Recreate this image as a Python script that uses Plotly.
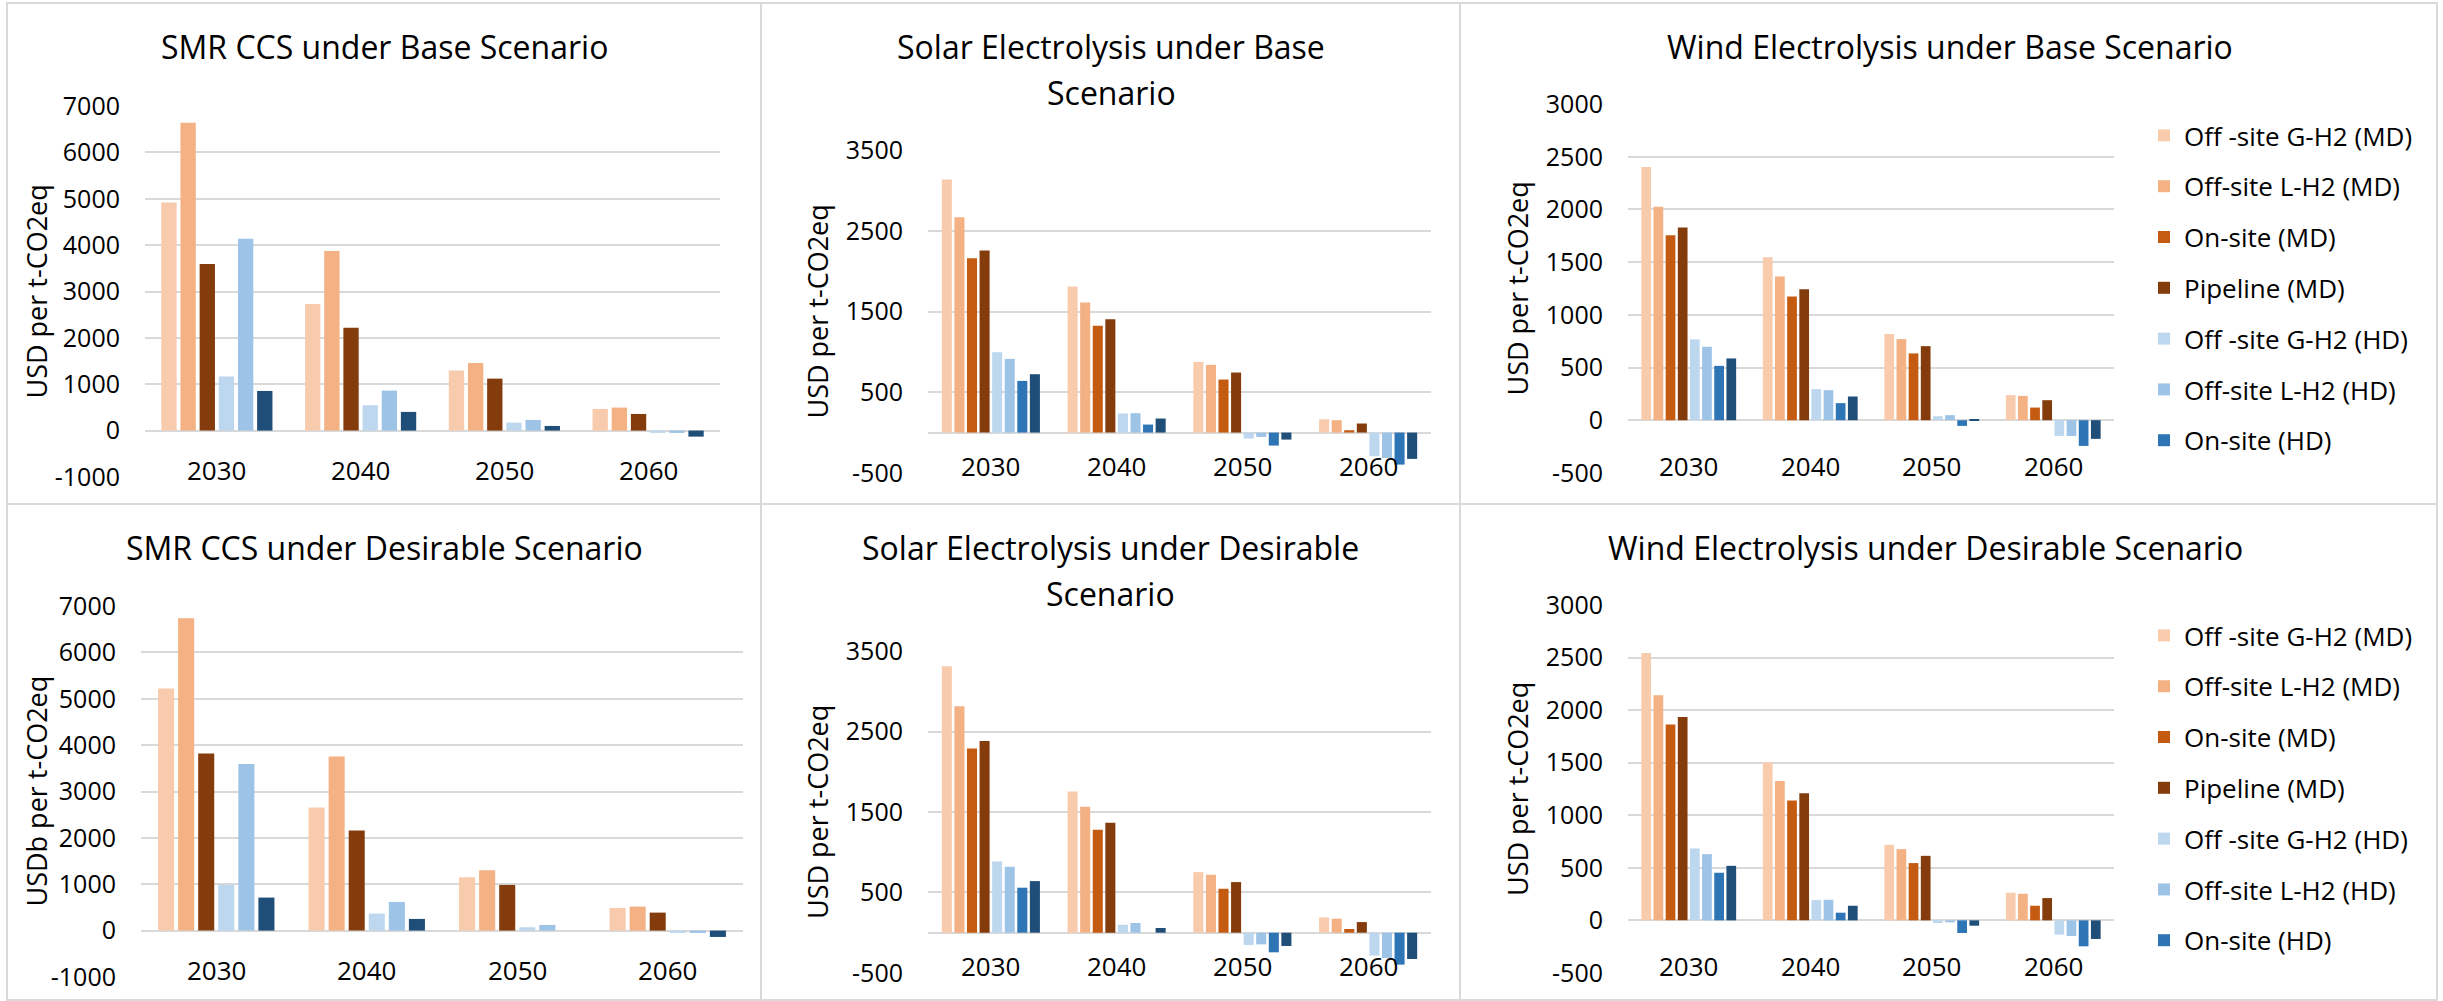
import plotly.graph_objects as go

W, H = 2443, 1001
FONT = "Open Sans, Segoe UI, DejaVu Sans, sans-serif"
GRID = "#D9D9D9"

# ---- data -------------------------------------------------------------
categories = ["2030", "2040", "2050", "2060"]

series_names = [
    "Off -site G-H2 (MD)",
    "Off-site L-H2 (MD)",
    "On-site (MD)",
    "Pipeline (MD)",
    "Off -site G-H2 (HD)",
    "Off-site L-H2 (HD)",
    "On-site (HD)",
    "Pipeline (HD)",
]
series_colors = ["#F8CBAD", "#F4B183", "#C55A11", "#843C0C",
                 "#BDD7EE", "#9DC3E6", "#2E75B6", "#1F4E79"]

# SMR CCS has no on-site option: only these series are plotted
smr_series = [0, 1, 3, 4, 5, 7]

# value-axis ticks
smr_ticks = [-1000, 0, 1000, 2000, 3000, 4000, 5000, 6000, 7000]
solar_ticks = [-500, 500, 1500, 2500, 3500]
wind_ticks = [-500, 0, 500, 1000, 1500, 2000, 2500, 3000]

smr_base = [
    [4920, 2730, 1294, 467],
    [6640, 3875, 1459, 496],
    [3595, 2220, 1121, 359],
    [1165, 546, 173, -50],
    [4140, 863, 230, -50],
    [855, 403, 100, -130],
]
smr_desirable = [
    [5220, 2653, 1150, 489],
    [6735, 3753, 1301, 518],
    [3817, 2157, 985, 388],
    [992, 367, 72, -50],
    [3595, 618, 122, -50],
    [712, 252, 0, -137],
]
solar_base = [
    [3136, 1810, 876, 165],
    [2669, 1612, 839, 153],
    [2161, 1322, 657, 29],
    [2256, 1405, 744, 112],
    [996, 236, -74, -293],
    [913, 240, -54, -314],
    [640, 99, -161, -397],
    [723, 174, -87, -326],
]
solar_desirable = [
    [3310, 1754, 753, 190],
    [2813, 1564, 720, 174],
    [2288, 1278, 546, 46],
    [2383, 1365, 629, 132],
    [885, 99, -153, -285],
    [819, 120, -145, -314],
    [559, 0, -244, -397],
    [641, 58, -165, -327],
]
wind_base = [
    [2404, 1546, 817, 238],
    [2027, 1365, 770, 231],
    [1755, 1175, 634, 120],
    [1828, 1242, 703, 190],
    [767, 295, 38, -149],
    [697, 285, 48, -149],
    [516, 162, -54, -244],
    [586, 225, 6, -177],
]
wind_desirable = [
    [2544, 1505, 719, 263],
    [2141, 1327, 678, 253],
    [1863, 1140, 545, 139],
    [1935, 1210, 614, 212],
    [684, 193, -25, -136],
    [630, 196, -19, -149],
    [453, 73, -120, -247],
    [519, 139, -51, -177],
]

all_series = list(range(8))

# ---- panel layout (pixel geometry) ------------------------------------
panels = [
    dict(title=["SMR CCS under Base Scenario"], title_x=384, title_y=47,
         data=smr_base, series=smr_series, ticks=smr_ticks,
         px_x=(145, 720), px_y=(106, 477), yrange=(-1000, 7000),
         ytitle="USD per t-CO2eq", ytitle_x=36, legend=None),
    dict(title=["Solar Electrolysis under Base", "Scenario"], title_x=1111, title_y=47,
         data=solar_base, series=all_series, ticks=solar_ticks,
         px_x=(928, 1431), px_y=(150, 473), yrange=(-500, 3500),
         ytitle="USD per t-CO2eq", ytitle_x=817, legend=None),
    dict(title=["Wind Electrolysis under Base Scenario"], title_x=1950, title_y=47,
         data=wind_base, series=all_series, ticks=wind_ticks,
         px_x=(1628, 2114), px_y=(104, 473), yrange=(-500, 3000),
         ytitle="USD per t-CO2eq", ytitle_x=1517, legend="legend"),
    dict(title=["SMR CCS under Desirable Scenario"], title_x=384, title_y=547,
         data=smr_desirable, series=smr_series, ticks=smr_ticks,
         px_x=(141, 743), px_y=(606, 977), yrange=(-1000, 7000),
         ytitle="USDb per t-CO2eq", ytitle_x=36, legend=None),
    dict(title=["Solar Electrolysis under Desirable", "Scenario"], title_x=1110, title_y=547,
         data=solar_desirable, series=all_series, ticks=solar_ticks,
         px_x=(928, 1431), px_y=(651, 973), yrange=(-500, 3500),
         ytitle="USD per t-CO2eq", ytitle_x=817, legend=None),
    dict(title=["Wind Electrolysis under Desirable Scenario"], title_x=1925, title_y=547,
         data=wind_desirable, series=all_series, ticks=wind_ticks,
         px_x=(1628, 2114), px_y=(605, 973), yrange=(-500, 3000),
         ytitle="USD per t-CO2eq", ytitle_x=1517, legend="legend2"),
]
TITLE_LINE_STEP = 46


def fx(px):
    return px / W


def fy(py):
    return 1 - py / H


fig = go.Figure()
annotations = []
layout_axes = {}

for i, p in enumerate(panels, start=1):
    xa = "x" if i == 1 else f"x{i}"
    ya = "y" if i == 1 else f"y{i}"
    for row, s in zip(p["data"], p["series"]):
        show = p["legend"] is not None and s != 7
        fig.add_trace(go.Bar(
            x=categories, y=row, name=series_names[s],
            marker=dict(color=series_colors[s], line=dict(width=0)),
            xaxis=xa, yaxis=ya,
            showlegend=show,
            legend=p["legend"] if p["legend"] else "legend",
            legendgroup=f"p{i}-s{s}",
        ))

    lo, hi = p["yrange"]
    layout_axes["xaxis" if i == 1 else f"xaxis{i}"] = dict(
        domain=[fx(p["px_x"][0]), fx(p["px_x"][1])],
        anchor=ya, type="category", categoryorder="array", categoryarray=categories,
        range=[-0.5, len(categories) - 0.5],
        showgrid=False, showline=False, zeroline=False, showticklabels=False, ticks="",
    )
    layout_axes["yaxis" if i == 1 else f"yaxis{i}"] = dict(
        domain=[fy(p["px_y"][1]), fy(p["px_y"][0])],
        anchor=xa, range=[lo - 1, hi + 1],
        tickmode="array", tickvals=p["ticks"], ticktext=[str(v) for v in p["ticks"]],
        showgrid=True, gridcolor=GRID, gridwidth=2,
        zeroline=True, zerolinecolor=GRID, zerolinewidth=2,
        showline=False, ticks="", ticklabelstandoff=24,
        tickfont=dict(family=FONT, size=25, color="#000000"),
    )

    # category labels sitting on the bottom gridline (positioned by category index)
    for j, c in enumerate(categories):
        annotations.append(dict(
            x=j, xref=xa, y=0, yref=f"{ya} domain",
            text=c, showarrow=False, xanchor="center", yanchor="bottom", yshift=-13,
            font=dict(family=FONT, size=26, color="#000000"),
        ))

    # panel title (one annotation per line)
    for k, txt in enumerate(p["title"]):
        annotations.append(dict(
            x=fx(p["title_x"]), y=fy(p["title_y"] + k * TITLE_LINE_STEP),
            xref="paper", yref="paper", text=txt,
            showarrow=False, xanchor="center", yanchor="middle",
            font=dict(family=FONT, size=32, color="#000000"),
        ))

    # vertical axis title
    annotations.append(dict(
        x=fx(p["ytitle_x"]), y=fy((p["px_y"][0] + p["px_y"][1]) / 2),
        xref="paper", yref="paper", text=p["ytitle"], textangle=-90,
        showarrow=False, xanchor="center", yanchor="middle",
        font=dict(family=FONT, size=27, color="#000000"),
    ))

# panel frame lines
line = dict(color=GRID, width=2)
shapes = [
    dict(type="rect", xref="paper", yref="paper", x0=fx(7), x1=fx(2437), y0=fy(1000), y1=fy(3), line=line),
    dict(type="line", xref="paper", yref="paper", x0=fx(761), x1=fx(761), y0=fy(1000), y1=fy(3), line=line),
    dict(type="line", xref="paper", yref="paper", x0=fx(1460), x1=fx(1460), y0=fy(1000), y1=fy(3), line=line),
    dict(type="line", xref="paper", yref="paper", x0=fx(7), x1=fx(2437), y0=fy(504), y1=fy(504), line=line),
]

legend_style = dict(
    xanchor="left", yanchor="top", traceorder="grouped", tracegroupgap=14,
    font=dict(family=FONT, size=26, color="#000000"), bgcolor="rgba(0,0,0,0)",
    itemclick=False, itemdoubleclick=False,
)

fig.update_layout(
    width=W, height=H, autosize=False,
    margin=dict(l=0, r=0, t=0, b=0, pad=0, autoexpand=False),
    paper_bgcolor="#FFFFFF", plot_bgcolor="#FFFFFF",
    barmode="group", bargap=0.2, bargroupgap=0.2,
    font=dict(family=FONT, color="#000000"),
    annotations=annotations, shapes=shapes,
    legend=dict(x=fx(2144), y=fy(112), **legend_style),
    legend2=dict(x=fx(2144), y=fy(612), **legend_style),
    **layout_axes,
)

fig.write_html("out.html")
